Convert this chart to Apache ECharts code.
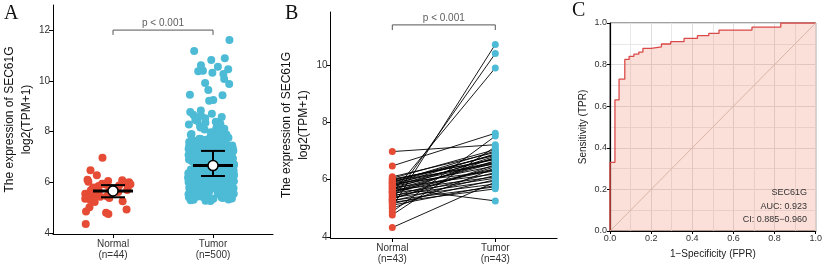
<!DOCTYPE html>
<html>
<head>
<meta charset="utf-8">
<script src="https://cdn.jsdelivr.net/npm/echarts@6/dist/echarts.min.js"></script>
<style>
  html, body { margin: 0; padding: 0; background: #fff; }
  #chart { width: 825px; height: 266px; }
</style>
</head>
<body>
<div id="chart"></div>
<script>
  // A: all samples (jittered)
  var groupsA = ['Normal', 'Tumor'];
  var groupLabelsA = ['Normal\n(n=44)', 'Tumor\n(n=500)'];
  var normalA = [6.97, 6.48, 6.28, 6.1, 6.08, 6.05, 6.02, 6.0, 5.98, 5.94, 5.93, 5.9, 5.87, 5.85,
    5.83, 5.8, 5.78, 5.74, 5.72, 5.7, 5.68, 5.65, 5.62, 5.61, 5.58, 5.55, 5.52, 5.5, 5.45, 5.43,
    5.38, 5.35, 5.3, 5.25, 5.22, 5.02, 4.93, 4.85, 4.8, 4.75, 4.35, 5.92, 5.77, 5.66];
  var tumorA = [
    5.28, 5.31, 5.45, 5.38, 5.26, 5.42, 5.33, 5.47, 5.29, 5.36, 5.44, 5.40, 5.27, 5.35, 5.49, 5.32, 5.41, 5.46,
    5.52, 5.61, 5.58, 5.70, 5.55, 5.66, 5.73, 5.51, 5.64, 5.59, 5.68, 5.54, 5.72, 5.62, 5.57, 5.69, 5.53, 5.65,
    5.74, 5.60, 5.56, 5.67, 5.71, 5.63, 5.58, 5.52, 5.66, 5.70, 5.61, 5.55,
    5.76, 5.82, 5.91, 5.79, 5.88, 5.95, 5.84, 5.77, 5.99, 5.86, 5.93, 5.80, 5.89, 5.97, 5.83, 5.78, 5.92, 5.85,
    5.96, 5.81, 5.87, 5.94, 5.79, 5.90, 5.98, 5.83, 5.76, 5.88, 5.95, 5.82, 5.91, 5.86, 5.78, 5.97, 5.84, 5.89,
    5.93, 5.80, 5.87, 5.99, 5.85, 5.77, 5.92, 5.90, 5.81,
    6.01, 6.12, 6.08, 6.21, 6.04, 6.17, 6.10, 6.24, 6.03, 6.15, 6.06, 6.19, 6.11, 6.02, 6.23, 6.14, 6.07, 6.18,
    6.09, 6.22, 6.05, 6.16, 6.13, 6.20, 6.00, 6.11, 6.24, 6.08, 6.17, 6.03, 6.14, 6.21, 6.06, 6.19, 6.10, 6.02,
    6.15, 6.23, 6.09, 6.12, 6.04, 6.18, 6.07, 6.20, 6.13, 6.01, 6.16, 6.22, 6.05, 6.11, 6.19, 6.08, 6.14, 6.24, 6.03,
    6.27, 6.38, 6.31, 6.45, 6.29, 6.41, 6.34, 6.48, 6.26, 6.36, 6.43, 6.30, 6.47, 6.33, 6.39, 6.28, 6.44, 6.35,
    6.49, 6.32, 6.40, 6.26, 6.37, 6.46, 6.30, 6.42, 6.34, 6.27, 6.48, 6.38, 6.31, 6.44, 6.36, 6.29, 6.41, 6.47,
    6.33, 6.25, 6.39, 6.45, 6.32, 6.43, 6.28, 6.37, 6.49, 6.35, 6.40, 6.26, 6.46, 6.31, 6.42, 6.34, 6.38, 6.29,
    6.44, 6.36, 6.47, 6.30, 6.41, 6.33, 6.39, 6.27,
    6.52, 6.63, 6.57, 6.71, 6.54, 6.66, 6.59, 6.73, 6.51, 6.61, 6.68, 6.55, 6.72, 6.58, 6.64, 6.53, 6.69, 6.60,
    6.74, 6.56, 6.65, 6.51, 6.62, 6.70, 6.55, 6.67, 6.59, 6.52, 6.73, 6.63, 6.56, 6.69, 6.61, 6.54, 6.66, 6.72,
    6.58, 6.50, 6.64, 6.70, 6.57, 6.68, 6.53, 6.62, 6.74, 6.60, 6.65, 6.51, 6.71, 6.56, 6.67, 6.59, 6.63, 6.54,
    6.69, 6.61, 6.72, 6.55, 6.66, 6.58, 6.64, 6.52,
    6.77, 6.88, 6.81, 6.95, 6.79, 6.91, 6.84, 6.98, 6.76, 6.86, 6.93, 6.80, 6.97, 6.83, 6.89, 6.78, 6.94, 6.85,
    6.99, 6.82, 6.90, 6.76, 6.87, 6.96, 6.80, 6.92, 6.84, 6.77, 6.98, 6.88, 6.81, 6.94, 6.86, 6.79, 6.91, 6.97,
    6.83, 6.75, 6.89, 6.95, 6.82, 6.93, 6.78, 6.87, 6.99, 6.85, 6.90, 6.76, 6.96, 6.81, 6.92, 6.84, 6.88, 6.79,
    6.94, 6.86, 6.97, 6.80,
    7.02, 7.13, 7.07, 7.21, 7.04, 7.16, 7.09, 7.23, 7.01, 7.11, 7.18, 7.05, 7.22, 7.08, 7.14, 7.03, 7.19, 7.10,
    7.24, 7.06, 7.15, 7.01, 7.12, 7.20, 7.05, 7.17, 7.09, 7.02, 7.23, 7.13, 7.06, 7.19, 7.11, 7.04, 7.16, 7.22,
    7.08, 7.00, 7.14, 7.20, 7.07, 7.18, 7.03, 7.12, 7.24, 7.10, 7.15, 7.01, 7.21, 7.06,
    7.27, 7.38, 7.31, 7.46, 7.29, 7.41, 7.34, 7.48, 7.26, 7.36, 7.43, 7.30, 7.47, 7.33, 7.39, 7.28, 7.44, 7.35,
    7.49, 7.32, 7.40, 7.26, 7.37, 7.45, 7.30, 7.42, 7.34, 7.27, 7.48, 7.38, 7.31, 7.44, 7.36, 7.29, 7.41, 7.47,
    7.33, 7.25,
    7.52, 7.63, 7.57, 7.71, 7.54, 7.66, 7.59, 7.73, 7.51, 7.61, 7.68, 7.55, 7.72, 7.58, 7.64, 7.53, 7.69, 7.60,
    7.74, 7.56, 7.65, 7.51, 7.62, 7.70, 7.55,
    7.77, 7.88, 7.81, 7.95, 7.79, 7.91, 7.84, 7.98, 7.76, 7.86, 7.93, 7.80, 7.97, 7.83, 7.89,
    8.02, 8.13, 8.07, 8.21, 8.04, 8.16, 8.09, 8.23, 8.11,
    8.28, 8.39, 8.31, 8.46, 8.35, 8.42,
    8.53, 8.64, 8.58, 8.71, 8.67,
    8.78, 8.84,
    9.22, 9.25, 9.44, 9.46,
    9.64, 9.88, 9.92,
    10.08, 10.28, 10.33, 10.38, 10.40, 10.42, 10.46,
    10.56, 10.62, 10.83, 10.90,
    11.18, 11.62
  ];
  var meanA = [5.66, 6.66];
  var lowA = [5.41, 6.25];
  var highA = [5.89, 7.24];
  var ticksA = [4, 6, 8, 10, 12];

  // B: paired samples
  var groupLabelsB = ['Normal\n(n=43)', 'Tumor\n(n=43)'];
  var normalB = [6.98, 6.48, 4.33, 5.05, 5.30, 5.55, 4.88, 4.77, 5.00, 5.71, 6.10, 6.05, 6.02, 5.97,
    5.95, 5.91, 5.88, 5.86, 5.82, 5.78, 5.76, 5.72, 5.68, 5.66, 5.62, 5.58, 5.56, 5.52, 5.48, 5.45,
    5.41, 5.38, 5.36, 5.32, 5.28, 5.25, 5.21, 5.16, 5.11, 5.90, 5.80, 5.60, 6.00];
  var tumorB = [7.22, 7.62, 5.92, 10.72, 10.40, 9.90, 7.52, 7.15, 6.40, 5.26, 6.95, 7.05, 6.70, 6.85,
    6.55, 7.00, 6.62, 6.30, 6.90, 6.75, 6.48, 6.20, 6.82, 6.58, 6.10, 6.66, 6.35, 6.05, 6.78, 5.95,
    6.45, 5.85, 6.25, 6.52, 5.75, 6.15, 5.68, 6.00, 5.80, 6.88, 6.60, 6.38, 6.72];
  var ticksB = [4, 6, 8, 10];
  var pText = 'p < 0.001';

  // C: ROC curve
  var fprC = [0, 0, 0.024, 0.044, 0.072, 0.093, 0.116, 0.14, 0.16, 0.20, 0.25, 0.295, 0.36, 0.425, 0.48, 0.53, 0.69, 0.83, 1];
  var tprC = [0, 0.33, 0.63, 0.73, 0.825, 0.84, 0.85, 0.86, 0.878, 0.885, 0.899, 0.91, 0.926, 0.939, 0.95, 0.966, 0.98, 1, 1];
  var rocText = ['SEC61G', 'AUC: 0.923', 'CI: 0.885\u22120.960'];

  var RED = '#E64B35', BLUE = '#4DBBD5';
  var FONT = 'Liberation Sans';
  var chart = echarts.init(document.getElementById('chart'));

  function groupAxis(grid, labels) {
    return {
      gridIndex: grid, type: 'value', min: 0.4, max: 2.6,
      axisLine: { lineStyle: { color: '#000', width: 1 } },
      axisTick: { customValues: [1, 2], length: 4, lineStyle: { color: '#000' } },
      axisLabel: {
        customValues: [1, 2], color: '#333', fontSize: 10, lineHeight: 11, margin: 5, fontFamily: FONT,
        formatter: function (v) { return labels[Math.round(v) - 1]; }
      },
      splitLine: { show: false }
    };
  }
  function exprAxis(grid, min, max, ticks) {
    return {
      gridIndex: grid, type: 'value', min: min, max: max,
      name: 'The expression of SEC61G\nlog2(TPM+1)', nameLocation: 'middle', nameGap: 14,
      nameTextStyle: { fontSize: 12, color: '#111', lineHeight: 17, fontFamily: FONT },
      axisLine: { show: true, lineStyle: { color: '#000', width: 1 } },
      axisTick: { show: true, customValues: ticks, length: 4, lineStyle: { color: '#000' } },
      axisLabel: { customValues: ticks, color: '#333', fontSize: 10, margin: 3, fontFamily: FONT },
      splitLine: { show: false }
    };
  }
  function seg(xi, pts, width) {
    return { type: 'line', xAxisIndex: xi, yAxisIndex: xi, data: pts, symbol: 'none', silent: true,
      lineStyle: { color: '#000', width: width }, z: 5 };
  }

  var series = [
    { type: 'scatter', xAxisIndex: 1, yAxisIndex: 1, symbolSize: 8, itemStyle: { color: RED, opacity: 1 },
      data: normalA.map(function (v) { return [0, v]; }) },
    { type: 'scatter', xAxisIndex: 1, yAxisIndex: 1, symbolSize: 8, itemStyle: { color: BLUE, opacity: 1 },
      data: tumorA.map(function (v) { return [1, v]; }) }
  ];
  meanA.forEach(function (m, i) {
    var x = i + 1;
    series.push(seg(0, [[x, lowA[i]], [x, highA[i]]], 2));
    series.push(seg(0, [[x - 0.12, lowA[i]], [x + 0.12, lowA[i]]], 2));
    series.push(seg(0, [[x - 0.12, highA[i]], [x + 0.12, highA[i]]], 2));
    series.push(seg(0, [[x - 0.2, m], [x + 0.2, m]], 3));
  });
  series.push({ type: 'scatter', xAxisIndex: 0, yAxisIndex: 0, symbolSize: 10, z: 6,
    itemStyle: { color: '#fff', borderColor: '#000', borderWidth: 1.5, opacity: 1 },
    data: meanA.map(function (m, i) { return [i + 1, m]; }) });

  // significance brackets
  [[0, 12.01, 11.82], [2, 11.40, 11.22]].forEach(function (b) {
    series.push({ type: 'line', xAxisIndex: b[0], yAxisIndex: b[0], symbol: 'none', silent: true,
      lineStyle: { color: '#555', width: 1 },
      data: [[1, b[2]], [1, b[1]], [2, b[1]], [2, b[2]]] });
    series.push({ type: 'scatter', xAxisIndex: b[0], yAxisIndex: b[0], symbolSize: 0, silent: true,
      label: { show: true, position: 'top', distance: 2, formatter: pText, color: '#333', fontSize: 10, fontFamily: FONT },
      data: [[1.5, b[1]]] });
  });

  // B paired lines
  normalB.forEach(function (n, i) {
    series.push({ type: 'line', xAxisIndex: 2, yAxisIndex: 2, symbol: 'none', silent: true,
      lineStyle: { color: '#000', width: 0.9 }, data: [[1, n], [2, tumorB[i]]], z: 2 });
  });
  series.push({ type: 'scatter', xAxisIndex: 2, yAxisIndex: 2, symbolSize: 7, z: 3,
    itemStyle: { color: RED, opacity: 1 }, data: normalB.map(function (v) { return [1, v]; }) });
  series.push({ type: 'scatter', xAxisIndex: 2, yAxisIndex: 2, symbolSize: 7, z: 3,
    itemStyle: { color: BLUE, opacity: 1 }, data: tumorB.map(function (v) { return [2, v]; }) });

  // C ROC
  series.push({ type: 'line', xAxisIndex: 3, yAxisIndex: 3, symbol: 'none', silent: true,
    lineStyle: { color: '#D9B5A8', width: 1 }, data: [[0, 0], [1, 1]], z: 3 });
  series.push({ type: 'line', xAxisIndex: 3, yAxisIndex: 3, symbol: 'none', step: 'end', silent: true,
    lineStyle: { color: '#DA4A48', width: 1.3 }, areaStyle: { color: 'rgba(238,105,75,0.3)', origin: 'start' },
    data: fprC.map(function (f, i) { return [f, tprC[i]]; }), z: 2 });

  var rocAxisBase = {
    gridIndex: 3, type: 'value', min: 0, max: 1, interval: 0.2,
    nameLocation: 'middle', nameTextStyle: { fontSize: 10, color: '#222', fontFamily: FONT },
    axisLine: { lineStyle: { color: '#000', width: 1.2 } },
    axisTick: { length: 3, lineStyle: { color: '#000' } },
    axisLabel: { color: '#333', fontSize: 9, margin: 3, fontFamily: FONT,
      formatter: function (v) { return v.toFixed(1); } },
    splitLine: { show: true, lineStyle: { color: '#DEDEDE', width: 1 } },
    minorTick: { show: false, splitNumber: 2 },
    minorSplitLine: { show: true, lineStyle: { color: '#E8E8E8', width: 1 } }
  };

  var graphics = [
    { type: 'text', left: 4, top: 4, style: { text: 'A', fontSize: 20, fontFamily: 'Liberation Serif', fill: '#111' } },
    { type: 'text', left: 285, top: 4, style: { text: 'B', fontSize: 20, fontFamily: 'Liberation Serif', fill: '#111' } },
    { type: 'text', left: 572, top: 1, style: { text: 'C', fontSize: 20, fontFamily: 'Liberation Serif', fill: '#111' } }
  ];
  rocText.forEach(function (t, i) {
    graphics.push({ type: 'text', x: 807, y: 193 + i * 13.5, z: 100,
      style: { text: t, fontSize: 9, fontFamily: FONT, fill: '#333', align: 'right', textAlign: 'right',
        verticalAlign: 'middle', textVerticalAlign: 'middle' } });
  });

  chart.setOption({
    animation: false,
    backgroundColor: '#fff',
    textStyle: { fontFamily: FONT },
    grid: [
      { left: 46, top: 5, width: 227, height: 229 },
      { left: 56.5, top: 5, width: 206, height: 229 },
      { left: 330.5, top: 12, width: 226.6, height: 226 },
      { left: 610, top: 23, width: 207, height: 208, show: true, borderColor: '#444', borderWidth: 1 }
    ],
    xAxis: [
      groupAxis(0, groupLabelsA),
      { gridIndex: 1, type: 'category', data: groupsA, show: false, jitter: 46, jitterOverlap: true },
      groupAxis(2, groupLabelsB),
      Object.assign({}, rocAxisBase, { name: '1\u2212Specificity (FPR)', nameGap: 18 })
    ],
    yAxis: [
      exprAxis(0, 3.96, 13, ticksA),
      { gridIndex: 1, type: 'value', min: 3.96, max: 13, show: false },
      exprAxis(2, 3.965, 11.85, ticksB),
      Object.assign({}, rocAxisBase, { gridIndex: 3, name: 'Sensitivity (TPR)', nameGap: 22 })
    ],
    graphic: graphics,
    series: series
  });
</script>
</body>
</html>
